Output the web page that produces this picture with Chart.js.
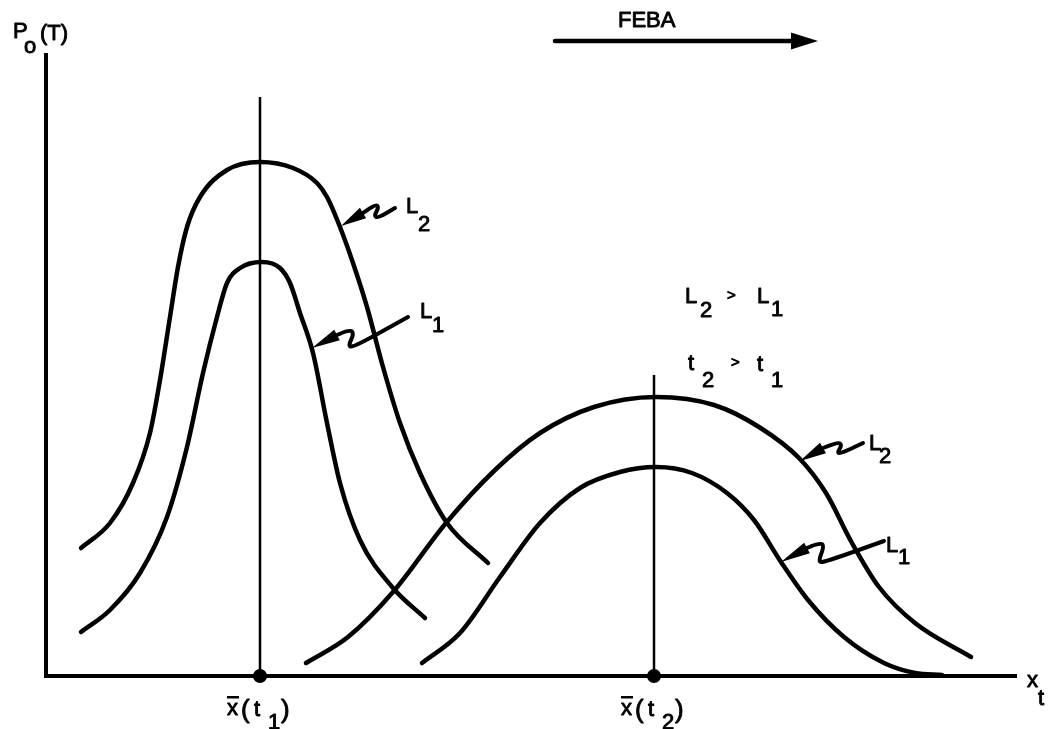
<!DOCTYPE html>
<html>
<head>
<meta charset="utf-8">
<script src="https://cdn.jsdelivr.net/npm/chart.js@4.4.1/dist/chart.umd.min.js"></script>
<style>
  body { margin: 0; background: #fff; }
  #wrap { width: 1054px; height: 729px; }
</style>
</head>
<body>
<div id="wrap"><canvas id="chart"></canvas></div>
<script>
// x = position along the front, y = P_o(T); both in plain drawing units
const l2AtT1 = [[3.5,12.8],[6.4,15.3],[8.7,19.3],[10.4,24.3],[11.4,29.6],[12.4,35.9],[13.2,40.9],[14.1,44.9],
  [15.4,47.9],[18.1,50.6],[21.4,51.4],[24.7,50.8],[27.1,49.3],[28.1,47.9],[29.4,44.9],[30.7,41.3],
  [32.1,36.9],[33.7,30.9],[35.4,25.3],[37.4,20.3],[40.1,15.3],[44.2,11.3]]
const l1AtT1 = [[3.5,4.4],[6.4,6.6],[9.4,10.3],[12.1,15.9],[14.1,22.9],[15.7,30.3],[17.1,35.9],[18.1,39.3],
  [19.4,40.8],[21.6,41.4],[23.4,40.8],[24.4,39.3],[25.4,36.3],[26.7,32.3],[28.1,25.3],[29.4,19.3],
  [31.4,13.6],[34.7,8.8],[37.9,5.8]]
const l2AtT2 = [[26.0,1.3],[30.2,3.9],[34.7,8.4],[40.0,15.3],[44.9,20.6],[49.4,24.3],[54.8,26.9],[61.0,27.9],
  [66.8,27.1],[71.3,24.9],[75.3,21.8],[78.0,18.3],[80.6,13.3],[83.3,8.9],[86.9,5.3],[92.5,1.9]]
const l1AtT2 = [[37.6,1.3],[41.4,4.3],[45.4,9.9],[49.4,15.3],[53.4,18.8],[57.4,20.4],[61.0,20.9],[64.6,20.3],
  [68.1,18.3],[70.8,15.6],[73.5,11.4],[76.2,7.6],[79.8,3.9],[83.8,1.3],[86.9,0.3],[89.6,0.1]]

// mean positions x̄(t1), x̄(t2) and how high their marker lines go
const meanX = [21.4, 60.8]
const meanTop = [57.9, 30.1]
const meanSub = ['1', '2']

const toPts = arr => arr.map(p => ({ x: p[0], y: p[1] }))

const curve = data => ({
  data: toPts(data),
  borderColor: '#000',
  borderWidth: 4.5,
  pointRadius: 0,
  cubicInterpolationMode: 'monotone',
  borderCapStyle: 'round',
  clip: false
})

const meanLine = i => ({
  data: [{ x: meanX[i], y: 0 }, { x: meanX[i], y: meanTop[i] }],
  borderColor: '#000',
  borderWidth: 2.5,
  pointRadius: 0,
  clip: false
})

// lettering placed in data units: [text, x, y, fontSize]
const notes = [
  ['P', -3.3, 63.8], ['o', -2.2, 62.3], ['(T)', -0.6, 63.6],
  ['FEBA', 57.2, 64.9],
  ['L', 36.0, 46.3], ['2', 37.2, 44.5],
  ['L', 37.4, 35.8], ['1', 38.6, 34.4],
  ['L', 63.9, 37.3], ['2', 65.4, 35.9], ['>', 68.1, 37.6, 15], ['L', 71.1, 37.3], ['1', 72.5, 36.0],
  ['t', 64.2, 30.6], ['2', 65.6, 28.9], ['>', 68.5, 30.9, 15], ['t', 71.1, 30.5], ['1', 72.5, 28.9],
  ['L', 82.3, 22.6], ['2', 83.3, 21.3],
  ['L', 84.0, 12.4], ['1', 85.2, 11.2],
  ['x', 98.1, -1.1], ['t', 99.2, -2.9]
]

// little wiggly pointers: arrow tip in data units, wiggle in pixel offsets from the tip
const pointers = [
  { tip: [29.5, 45.0], path: [[22,-13],[34,-22],[38,-19],[33,-10],[37,-8],[54,-18]] },
  { tip: [26.6, 32.8], path: [[25,-13],[38,-19],[42,-14],[36,-2],[42,-1],[96,-31]] },
  { tip: [75.4, 21.5], path: [[23,-13],[38,-19],[42,-16],[37,-8],[42,-8],[63,-18]] },
  { tip: [73.5, 11.4], path: [[26,-14],[40,-20],[43,-15],[37,0],[44,0],[103,-21]] }
]

// FEBA direction arrow, data units
const febaArrow = { from: [50.9, 63.5], to: [77.2, 63.5] }

const FONT = '"Liberation Sans", "DejaVu Sans", sans-serif'

const arrowHead = (ctx, tx, ty, ux, uy, len, half) => {
  ctx.beginPath()
  ctx.moveTo(tx, ty)
  ctx.lineTo(tx + ux * len - uy * half, ty + uy * len + ux * half)
  ctx.lineTo(tx + ux * len + uy * half, ty + uy * len - ux * half)
  ctx.closePath()
  ctx.fill()
}

// pen-lettered text: fill plus a thin stroke for the heavier line
const letter = (ctx, t, x, y, size) => {
  ctx.font = (size || 22) + 'px ' + FONT
  ctx.lineWidth = 0.9
  ctx.fillText(t, x, y)
  ctx.strokeText(t, x, y)
}

const sketchPlugin = {
  id: 'sketch',
  afterDatasetsDraw(chart) {
    const { ctx, scales: { x, y } } = chart
    const px = v => x.getPixelForValue(v)
    const py = v => y.getPixelForValue(v)
    ctx.save()
    ctx.fillStyle = '#000'
    ctx.strokeStyle = '#000'
    ctx.lineCap = 'round'
    ctx.lineJoin = 'round'
    ctx.textBaseline = 'alphabetic'

    notes.forEach(([t, nx, ny, size]) => letter(ctx, t, px(nx), py(ny), size))

    // x̄(t_i) under each mean position
    meanX.forEach((m, i) => {
      const c = px(m)
      const base = py(0)
      letter(ctx, 'x', c - 33, base + 39)
      ctx.fillRect(c - 33, base + 20, 12, 2.5)
      letter(ctx, '(', c - 19, base + 42, 26)
      letter(ctx, 't', c - 6, base + 40)
      letter(ctx, meanSub[i], c + 8, base + 53)
      letter(ctx, ')', c + 21, base + 42, 26)
    })

    pointers.forEach(p => {
      const tx = px(p.tip[0]), ty = py(p.tip[1])
      const pts = p.path.map(([dx, dy]) => [tx + dx, ty + dy])
      const [hx, hy] = pts[0]
      const d = Math.hypot(hx - tx, hy - ty)
      arrowHead(ctx, tx, ty, (hx - tx) / d, (hy - ty) / d, d, 6)
      ctx.lineWidth = 4
      ctx.beginPath()
      ctx.moveTo(pts[0][0], pts[0][1])
      for (let i = 1; i < pts.length - 1; i++) {
        const mx = (pts[i][0] + pts[i + 1][0]) / 2
        const my = (pts[i][1] + pts[i + 1][1]) / 2
        ctx.quadraticCurveTo(pts[i][0], pts[i][1], mx, my)
      }
      const last = pts[pts.length - 1]
      ctx.lineTo(last[0], last[1])
      ctx.stroke()
    })

    const fx = px(febaArrow.from[0]), fy = py(febaArrow.from[1])
    const ex = px(febaArrow.to[0]), ey = py(febaArrow.to[1])
    ctx.lineWidth = 4.5
    ctx.beginPath()
    ctx.moveTo(fx, fy)
    ctx.lineTo(ex - 20, ey)
    ctx.stroke()
    arrowHead(ctx, ex, ey, -1, 0, 27, 8.5)
    ctx.restore()
  }
}

new Chart(document.getElementById('chart'), {
  type: 'line',
  data: {
    datasets: [
      curve(l2AtT1),
      curve(l1AtT1),
      curve(l2AtT2),
      curve(l1AtT2),
      meanLine(0),
      meanLine(1),
      {
        data: meanX.map(m => ({ x: m, y: 0 })),
        showLine: false,
        pointRadius: 7,
        pointBackgroundColor: '#000',
        pointBorderWidth: 0,
        clip: false
      }
    ]
  },
  options: {
    responsive: true,
    maintainAspectRatio: false,
    animation: false,
    events: [],
    layout: { padding: { left: 46, right: 38, top: 55, bottom: 53 } },
    plugins: { legend: { display: false }, tooltip: { enabled: false } },
    scales: {
      x: {
        type: 'linear', min: 0, max: 97,
        ticks: { display: false },
        grid: { display: false, drawTicks: false },
        border: { display: true, color: '#000', width: 4 }
      },
      y: {
        type: 'linear', min: 0, max: 62.1,
        ticks: { display: false },
        grid: { display: false, drawTicks: false },
        border: { display: true, color: '#000', width: 4 }
      }
    }
  },
  plugins: [sketchPlugin]
})
</script>
</body>
</html>
